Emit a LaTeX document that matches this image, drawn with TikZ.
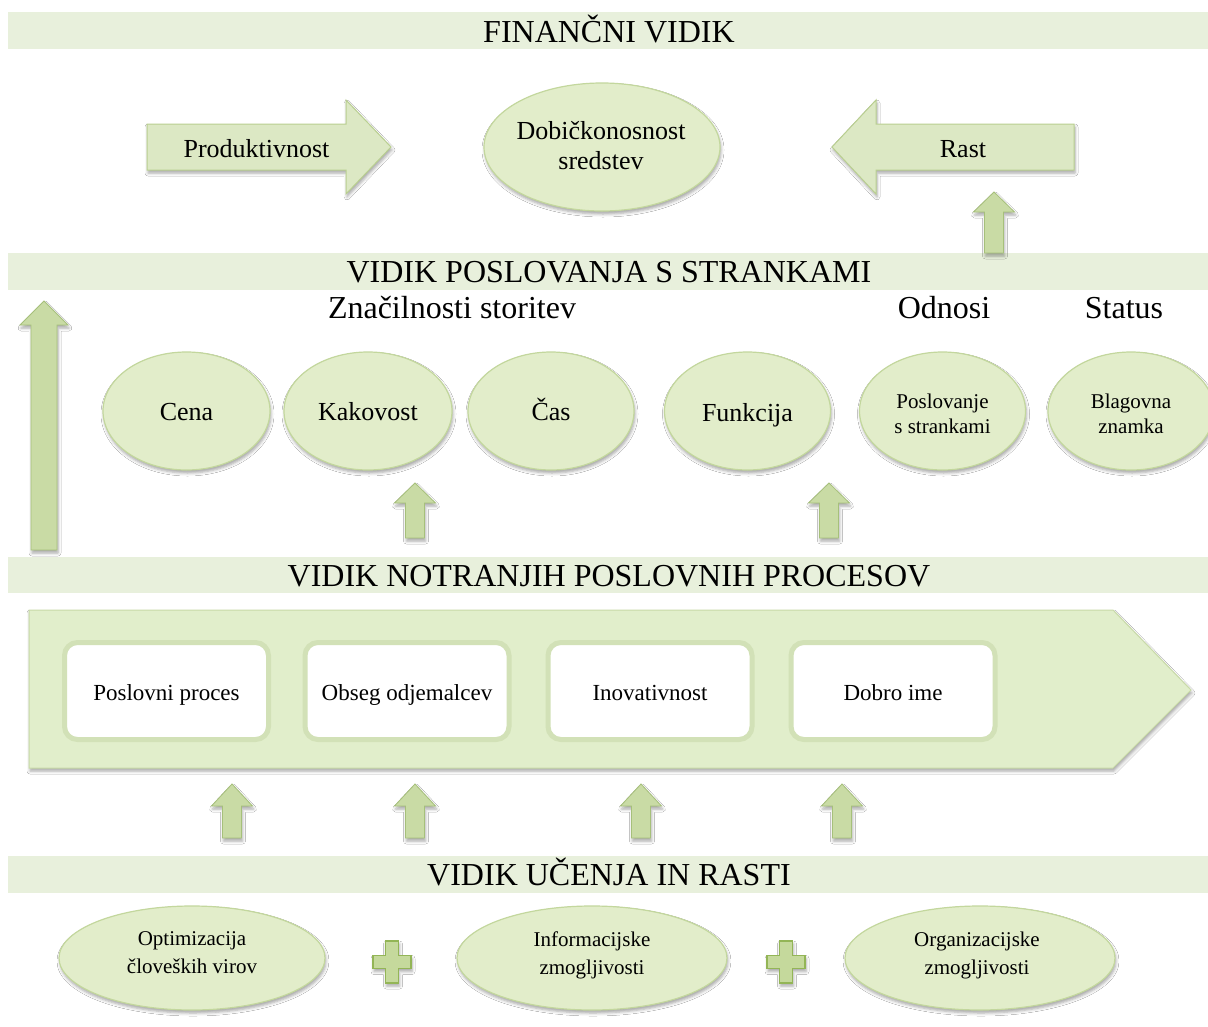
\documentclass[tikz,border=0pt]{standalone}
\usepackage{fontspec}
\setmainfont{Liberation Serif}
\usetikzlibrary{shapes.geometric,shadows.blur}
\definecolor{band}{HTML}{E8F0DC}
\definecolor{ellfill}{HTML}{E2EDCA}
\definecolor{ellrim}{HTML}{C3D79D}
\definecolor{arrfill}{HTML}{DCE8C4}
\definecolor{arrrim}{HTML}{B9CF90}
\definecolor{uparr}{HTML}{C9DBA5}
\definecolor{uparrrim}{HTML}{A6C07A}
\definecolor{plusfill}{HTML}{C5D99C}
\definecolor{plusrim}{HTML}{93B556}
\definecolor{chev}{HTML}{E1EECB}
\definecolor{chevrim}{HTML}{C8DAA7}
\definecolor{ring}{HTML}{D2E1B7}
\newcommand\upblock[4]{\path[uparrow] (#1,#2) -- ({#1+20.5},#3) -- ({#1+9.5},#3) -- ({#1+9.5},#4) -- ({#1-9.5},#4) -- ({#1-9.5},#3) -- ({#1-20.5},#3) -- cycle;}
\newcommand\plusblock[2]{\path[plusstyle] ({#1-6.5},{#2-21}) -- ({#1+6.5},{#2-21}) -- ({#1+6.5},{#2-6.5}) -- ({#1+19},{#2-6.5}) -- ({#1+19},{#2+6.5}) -- ({#1+6.5},{#2+6.5}) -- ({#1+6.5},{#2+21}) -- ({#1-6.5},{#2+21}) -- ({#1-6.5},{#2+6.5}) -- ({#1-19},{#2+6.5}) -- ({#1-19},{#2-6.5}) -- ({#1-6.5},{#2-6.5}) -- cycle;}
\begin{document}
\begin{tikzpicture}[x=1pt,y=-1pt,
  title/.style={anchor=base,font=\fontsize{32}{38}\selectfont,inner sep=0pt},
  lbl/.style={anchor=base,font=\fontsize{26}{30}\selectfont,inner sep=0pt},
  small/.style={align=center,font=\fontsize{21}{25}\selectfont,inner sep=0pt},
  bottomlbl/.style={align=center,font=\fontsize{21}{28}\selectfont,inner sep=0pt},
  shd/.style={blur shadow={shadow xshift=1pt,shadow yshift=-3pt,shadow blur radius=3pt,shadow opacity=35}},
  ell/.style={ellipse,fill=ellfill,draw=ellrim,line width=1.2pt,shd,inner sep=0pt},
  blockarrow/.style={fill=arrfill,draw=arrrim,line width=1pt,shd},
  uparrow/.style={fill=uparr,draw=uparrrim,line width=0.8pt,shd},
  plusstyle/.style={fill=plusfill,draw=plusrim,line width=1.5pt,shd},
  procbox/.style={rectangle,rounded corners=13pt,fill=white,draw=ring,line width=5pt,minimum width=204pt,minimum height=97pt,font=\fontsize{23}{27}\selectfont,text height=18pt,text depth=0pt},
]
\useasboundingbox (0,0) rectangle (1208,1026);
\fill[white] (0,0) rectangle (1208,1026);
% bands
\fill[band] (8,12) rectangle (1208,49);
\fill[band] (8,253) rectangle (1208,290);
\fill[band] (8,557) rectangle (1208,593);
\fill[band] (8,856) rectangle (1208,893);
\node[title] (t1) at (609,42) {FINANČNI VIDIK};
\node[title] (t2) at (609,282) {VIDIK POSLOVANJA S STRANKAMI};
\node[title] (t3) at (609,586) {VIDIK NOTRANJIH POSLOVNIH PROCESOV};
\node[title] (t4) at (609,885) {VIDIK UČENJA IN RASTI};
% row 1
\path[blockarrow] (147,124) -- (346,124) -- (346,100) -- (391,147) -- (346,194) -- (346,170) -- (147,170) -- cycle;
\node[lbl] (prod) at (256.5,157) {Produktivnost};
\path[blockarrow] (1074,124) -- (876,124) -- (876,100) -- (832,147) -- (876,194) -- (876,170) -- (1074,170) -- cycle;
\node[lbl] (rast) at (963,157) {Rast};
\node[ell,minimum width=236pt,minimum height=128pt] (dob) at (602,147) {};
\node[align=center,font=\fontsize{26}{30}\selectfont,inner sep=0pt] (dobt) at (601,146) {Dobičkonosnost\\sredstev};
\upblock{994}{192}{212}{253}
% row 2
\node[title] (zna) at (452,318) {Značilnosti storitev};
\node[title] (odn) at (944,318) {Odnosi};
\node[title] (sta) at (1124,318) {Status};
\path[uparrow] (44,301) -- (68,325) -- (57,325) -- (57,550) -- (31,550) -- (31,325) -- (20,325) -- cycle;
\node[ell,minimum width=167pt,minimum height=118pt] (cena) at (186.5,411) {};
\node[ell,minimum width=168pt,minimum height=118pt] (kak) at (368,411) {};
\node[ell,minimum width=166pt,minimum height=118pt] (cas) at (551,411) {};
\node[ell,minimum width=166pt,minimum height=118pt] (fun) at (747.5,411) {};
\node[ell,minimum width=166pt,minimum height=118pt] (pos) at (942.5,411) {};
\node[ell,minimum width=166pt,minimum height=118pt] (bla) at (1131,411) {};
\node[lbl] (cenat) at (186.5,420) {Cena};
\node[lbl] (kakt) at (368,420) {Kakovost};
\node[lbl] (cast) at (551,420) {Čas};
\node[lbl] (funt) at (747.5,421) {Funkcija};
\node[small] (post) at (942.5,413.5) {Poslovanje\\s strankami};
\node[small] (blat) at (1131,413.5) {Blagovna\\znamka};
\upblock{415}{483}{503}{538}
\upblock{829}{483}{503}{538}
% row 3
\path[fill=chev,draw=chevrim,line width=1pt,shd] (29,610) -- (1113,610) -- (1191,690) -- (1113,768) -- (29,768) -- cycle;
\node[procbox] (b1) at (166.5,691) {Poslovni proces};
\node[procbox] (b2) at (407,691) {Obseg odjemalcev};
\node[procbox] (b3) at (650,691) {Inovativnost};
\node[procbox] (b4) at (893,691) {Dobro ime};
\upblock{232}{784}{806}{838}
\upblock{415}{784}{806}{838}
\upblock{641}{784}{806}{838}
\upblock{842}{784}{806}{838}
% row 4
\node[ell,minimum width=266pt,minimum height=104pt] (opt) at (192,958) {};
\node[ell,minimum width=270pt,minimum height=104pt] (inf) at (592,958) {};
\node[ell,minimum width=270pt,minimum height=104pt] (org) at (980,958) {};
\node[bottomlbl] (optt) at (192,953) {Optimizacija\\človeških virov};
\node[bottomlbl] (inft) at (592,955) {Informacijske\\zmogljivosti};
\node[bottomlbl] (orgt) at (977,955) {Organizacijske\\zmogljivosti};
\plusblock{392}{962}
\plusblock{786}{962}
\end{tikzpicture}
\end{document}
